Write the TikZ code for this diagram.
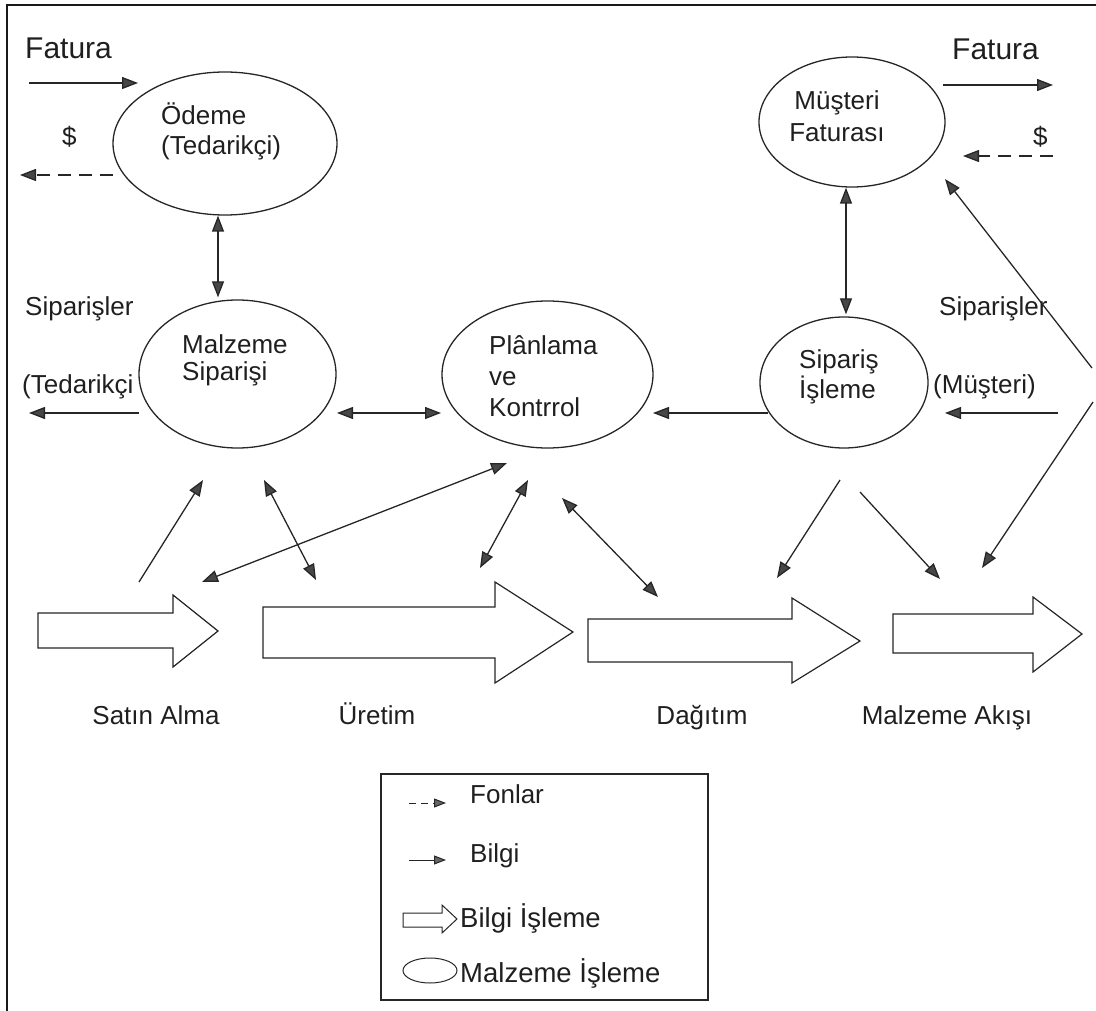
\documentclass[tikz,border=0pt]{standalone}
\usepackage{fontspec}
\setmainfont{Liberation Sans}
\usetikzlibrary{arrows.meta,shapes.geometric}
\begin{document}
\begin{tikzpicture}[x=1pt,y=-1pt,
  ink/.style={draw=black!85,line width=1.3pt},
  tipbig/.tip={Triangle[length=16pt,width=12pt,fill=black!72]},
  tipsmall/.tip={Triangle[length=12pt,width=9pt,fill=black!60]},
  info/.style={ink,-tipbig},
  both/.style={ink,tipbig-tipbig},
  fund/.style={ink,dash pattern=on 13pt off 8pt,-tipbig},
  proc/.style={ellipse,ink,inner sep=0pt},
  flow/.style={ink,line width=1.2pt,fill=white,line join=miter},
  lbl/.style={font=\fontsize{26}{30}\selectfont,text=black!88,inner sep=0pt},
  keylbl/.style={font=\fontsize{27.5}{30}\selectfont,text=black!88,inner sep=0pt},
  biglbl/.style={font=\fontsize{30}{34}\selectfont,text=black!88,inner sep=0pt}
]
\useasboundingbox (0,0) rectangle (1096,1011);

% outer frame (top and left edges)
\draw[draw=black!90,line width=1.6pt] (7,1011) -- (7,5) -- (1096,5);

% processing ellipses
\node[proc,minimum width=224pt,minimum height=143pt] (odeme) at (225,143.5) {};
\node[proc,minimum width=186pt,minimum height=130pt] (must) at (852,122) {};
\node[proc,minimum width=197pt,minimum height=148pt] (malz) at (237.5,374) {};
\node[proc,minimum width=211pt,minimum height=147pt] (plan) at (547.5,374.5) {};
\node[proc,minimum width=168pt,minimum height=131pt] (sip) at (844,382.5) {};

% texts inside the ellipses
\node[lbl,anchor=base west] (odemeA) at (161,125) {Ödeme};
\node[lbl,anchor=base west] (odemeB) at (161,155) {(Tedarikçi)};
\node[lbl,anchor=base] (mustA) at (837,110) {Müşteri};
\node[lbl,anchor=base] (mustB) at (837,142) {Faturası};
\node[lbl,anchor=base west] (malzA) at (182,353) {Malzeme};
\node[lbl,anchor=base west] (malzB) at (182,380) {Siparişi};
\node[lbl,anchor=base west] (planA) at (489,355) {Plânlama};
\node[lbl,anchor=base west] (planB) at (489,385) {ve};
\node[lbl,anchor=base west] (planC) at (489,416) {Kontrrol};
\node[lbl,anchor=base west] (sipA) at (799,368) {Sipariş};
\node[lbl,anchor=base west] (sipB) at (799,398) {İşleme};

% side labels
\node[biglbl,anchor=base west] (fatL) at (25,59) {Fatura};
\node[lbl,anchor=base west] (dolL) at (62,146) {\$};
\node[biglbl,anchor=base west] (fatR) at (952,60) {Fatura};
\node[lbl,anchor=base west] (dolR) at (1033,146) {\$};
\node[lbl,anchor=base west] (sipsL) at (25,316) {Siparişler};
\node[lbl,anchor=base west] (tedL) at (22,393) {(Tedarikçi};
\node[lbl,anchor=base west] (sipsR) at (939,316) {Siparişler};
\node[lbl,anchor=base west] (musR) at (933,393) {(Müşteri)};

% material flow block arrows
\draw[flow] (38,613) -- (173,613) -- (173,595) -- (218,631) -- (173,667) -- (173,648) -- (38,648) -- cycle;
\draw[flow] (263,607) -- (495,607) -- (495,582) -- (573,632) -- (495,683) -- (495,658) -- (263,658) -- cycle;
\draw[flow] (588,619) -- (792,619) -- (792,598) -- (860,641) -- (792,683) -- (792,662) -- (588,662) -- cycle;
\draw[flow] (893,614) -- (1033,614) -- (1033,597) -- (1082,634) -- (1033,672) -- (1033,653) -- (893,653) -- cycle;

\node[lbl,anchor=base] (satin) at (156,724) {Satın Alma};
\node[lbl,anchor=base] (uretim) at (377,724) {Üretim};
\node[lbl,anchor=base] (dagit) at (702,724) {Dağıtım};
\node[lbl,anchor=base] (akis) at (947,724) {Malzeme Akışı};

% connector end points
\coordinate (fatLa) at (29,83);   \coordinate (fatLb) at (138,83);
\coordinate (dolLa) at (113,175); \coordinate (dolLb) at (20,175);
\coordinate (fatRa) at (943,85);  \coordinate (fatRb) at (1053,85);
\coordinate (dolRa) at (1053,156);\coordinate (dolRb) at (963,156);
\coordinate (tedA) at (139,413);  \coordinate (tedB) at (29,413);
\coordinate (musA) at (1058,413); \coordinate (musB) at (945,413);
\coordinate (mpA) at (337,413);   \coordinate (mpB) at (441,413);
\coordinate (spA) at (768,413);   \coordinate (spB) at (653,413);
\coordinate (saA) at (139,582);   \coordinate (saB) at (203,480);
\coordinate (muA) at (264,480);   \coordinate (muB) at (316,580);
\coordinate (psA) at (507,463);   \coordinate (psB) at (202,582);
\coordinate (puA) at (528,480);   \coordinate (puB) at (480,568);
\coordinate (pdA) at (562,498);   \coordinate (pdB) at (658,597);
\coordinate (sdA) at (840,480);   \coordinate (sdB) at (777,578);
\coordinate (smA) at (860,492);   \coordinate (smB) at (940,579);
\coordinate (rUa) at (1092,368);  \coordinate (rUb) at (945,179);
\coordinate (rLa) at (1093,402);  \coordinate (rLb) at (982,568);

% information and funds connectors
\draw[info] (fatLa) -- (fatLb);
\draw[fund] (dolLa) -- (dolLb);
\draw[info] (fatRa) -- (fatRb);
\draw[fund] (dolRa) -- (dolRb);
\draw[both] ([xshift=-7pt]odeme.south) -- ([xshift=-19.5pt,yshift=2pt]malz.north);
\draw[both] ([xshift=-6pt]must.south) -- ([xshift=2pt,yshift=2pt]sip.north);
\draw[info] (tedA) -- (tedB);
\draw[info] (musA) -- (musB);
\draw[both] (mpA) -- (mpB);
\draw[info] (spA) -- (spB);
\draw[info] (saA) -- (saB);
\draw[both] (muA) -- (muB);
\draw[both] (psA) -- (psB);
\draw[both] (puA) -- (puB);
\draw[both] (pdA) -- (pdB);
\draw[info] (sdA) -- (sdB);
\draw[info] (smA) -- (smB);
\draw[info] (rUa) -- (rUb);
\draw[info] (rLa) -- (rLb);

% legend
\draw[ink,line width=1.3pt] (381,774) rectangle (708,1000);
\coordinate (lgFa) at (409,803); \coordinate (lgFb) at (446,803);
\coordinate (lgBa) at (409,860); \coordinate (lgBb) at (446,860);
\draw[ink,line width=1pt,dash pattern=on 7pt off 5pt,-tipsmall] (lgFa) -- (lgFb);
\draw[ink,line width=1pt,-tipsmall] (lgBa) -- (lgBb);
\draw[flow,line width=1pt] (403,913) -- (442,913) -- (442,905) -- (457,919) -- (442,933) -- (442,927) -- (403,927) -- cycle;
\node[proc,line width=1pt,minimum width=54pt,minimum height=25pt] (lgEl) at (430,970.5) {};
\node[lbl,anchor=base west] (lgF) at (470,803) {Fonlar};
\node[lbl,anchor=base west] (lgB) at (470,862) {Bilgi};
\node[keylbl,anchor=base west] (lgBI) at (460,927) {Bilgi İşleme};
\node[keylbl,anchor=base west] (lgMI) at (460,982) {Malzeme İşleme};
\end{tikzpicture}
\end{document}
